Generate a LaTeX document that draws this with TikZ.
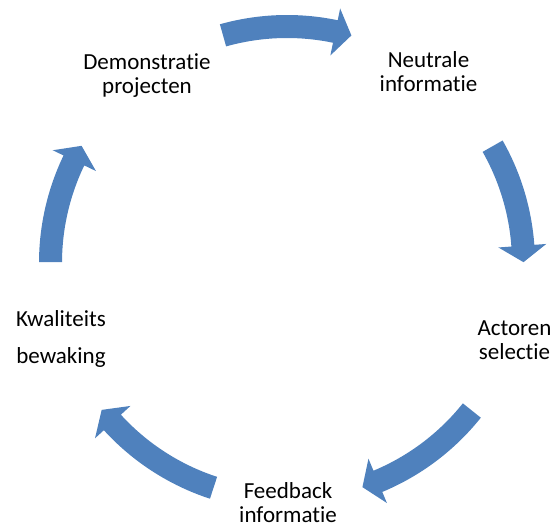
\documentclass[tikz,border=0pt]{standalone}
\usepackage{fontspec}
\setmainfont[Ligatures=NoCommon]{Carlito}
\definecolor{cycleblue}{RGB}{79,129,189}
\tikzset{
  lbl/.style={align=center, inner sep=0pt, text=black,
    font=\fontsize{23}{24}\selectfont},
  arrowfill/.style={fill=cycleblue, draw=none}
}
% curved block arrow around the cycle centre: #1 = tail angle, #2 = tip angle
\newcommand\cyclearrow[2]{%
  \pgfmathsetmacro\hb{#2+4}%
  \fill[arrowfill] (#1:248) arc[start angle=#1, end angle=\hb, radius=248]
    -- (\hb:260) -- (#2:236.5) -- (\hb:212) -- (\hb:225)
    arc[start angle=\hb, end angle=#1, radius=225] -- cycle;
}
\begin{document}
\begin{tikzpicture}[x=1pt, y=1pt]
  \useasboundingbox (0,0) rectangle (555,525);
  \coordinate (ctr) at (287,262);

  \begin{scope}[shift={(ctr)}]
    \cyclearrow{105.7}{74.2}
    \cyclearrow{29.6}{0.2}
    \cyclearrow{-38.6}{-71.4}
    \cyclearrow{-108.1}{-141.6}
    \cyclearrow{179.8}{150.3}
  \end{scope}

  % anchor=base sits on the last line of each label
  \node[lbl, anchor=base] (demo) at (147,431.7) {Demonstratie\\projecten};
  \node[lbl, anchor=base] (neutr) at (428.5,433.3) {Neutrale\\informatie};
  \node[lbl, anchor=base] (actor) at (514.5,165.7) {Actoren\\selectie};
  \node[lbl, anchor=base] (feedb) at (288,2) {Feedback\\informatie};
  \node[lbl, anchor=base] (kwal) at (61,161.7) {Kwaliteits\\[12.6pt]bewaking};
\end{tikzpicture}
\end{document}
